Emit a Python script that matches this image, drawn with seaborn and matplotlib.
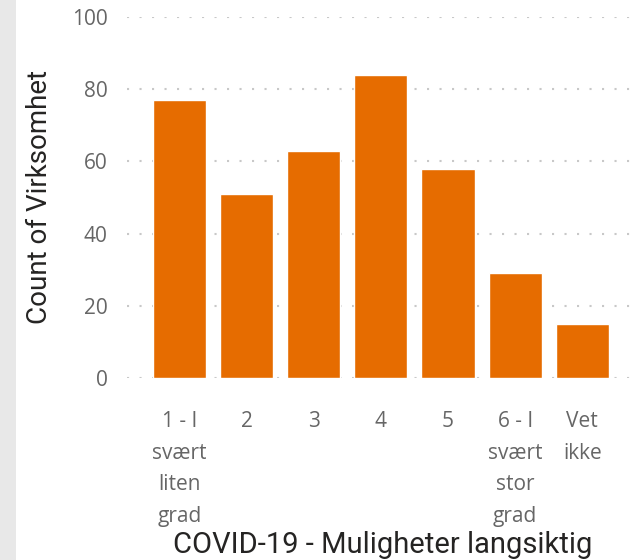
import textwrap
import matplotlib
matplotlib.use("Agg")
import matplotlib.pyplot as plt
import matplotlib.patches as mpatches
import seaborn as sns
import pandas as pd

# data
categories = ["1 - I svært liten grad", "2", "3", "4", "5",
              "6 - I svært stor grad", "Vet ikke"]
counts = [77, 51, 63, 84, 58, 29, 15]
y_ticks = [0, 20, 40, 60, 80, 100]

df = pd.DataFrame({"kategori": categories, "antall": counts})

sns.set_style("white")
plt.rcParams["font.family"] = ["Open Sans", "DejaVu Sans"]

fig = plt.figure(figsize=(6.36, 5.6), dpi=100)
# grey strip on the left edge
fig.patches.append(mpatches.Rectangle((0, 0), 16 / 636, 1, transform=fig.transFigure,
                                      facecolor="#e8e8e8", edgecolor="none", zorder=0))
ax = fig.add_axes([127 / 636, 182 / 560, 509 / 636, 361 / 560])

sns.barplot(data=df, x="kategori", y="antall", color="#E66C00", saturation=1,
            width=0.79, ax=ax)

ax.set_ylim(0, 100)
ax.set_xlim(-0.78, 6.8)
ax.set_yticks(y_ticks)
ax.yaxis.grid(True, color="#c8c8c8", linestyle=(0, (1, 5)), linewidth=1.5)
ax.set_axisbelow(True)
for s in ax.spines.values():
    s.set_visible(False)

ax.set_xticks(range(len(categories)))
ax.set_xticklabels(["\n".join(textwrap.wrap(c, 5)) for c in categories],
                   linespacing=1.66)
ax.tick_params(axis="both", length=0, labelsize=15, labelcolor="#666666")
ax.tick_params(axis="y", pad=14)
ax.tick_params(axis="x", pad=24)

ax.set_xlabel("COVID-19 - Muligheter langsiktig", fontsize=21, color="#252423",
              family=["Roboto", "DejaVu Sans"])
ax.set_ylabel("Count of Virksomhet", fontsize=20, color="#252423",
              family=["Roboto", "DejaVu Sans"])
ax.xaxis.set_label_coords(0.503, -0.462)
ax.xaxis.label.set_va("center")
ax.yaxis.set_label_coords(-0.171, 0.5)
ax.yaxis.label.set_va("center")

fig.savefig("out.png", dpi=100)
